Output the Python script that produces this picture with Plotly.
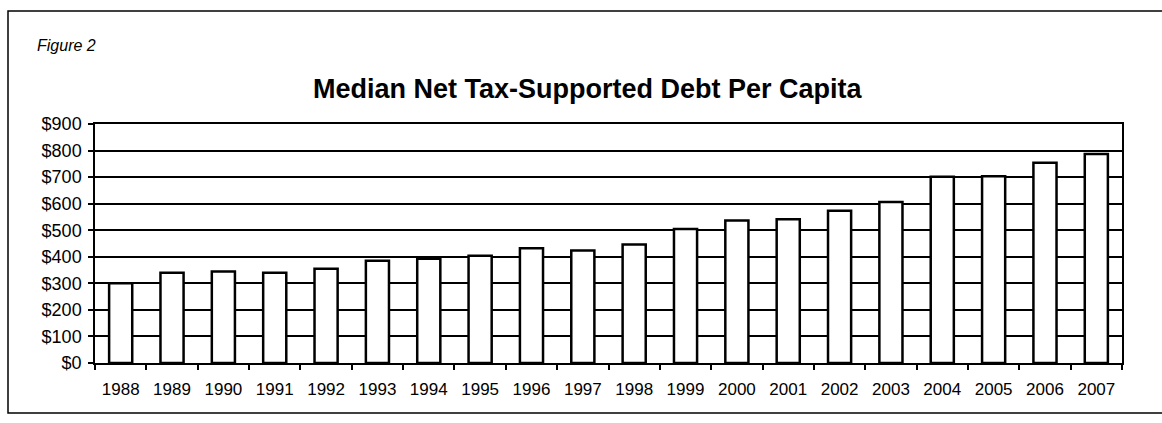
import plotly.graph_objects as go

# Median net tax-supported debt per capita, in dollars
years = [str(y) for y in range(1988, 2008)]
debt_per_capita = [300, 340, 345, 340, 355, 385, 393, 404, 432, 424,
                   446, 505, 537, 541, 573, 606, 701, 703, 754, 787]
y_ticks = list(range(0, 1000, 100))
y_tick_labels = [f"${v}" for v in y_ticks]

W, H = 1162, 423
L, R, T, B = 95, 40, 124, 60
plot_w = W - L - R
plot_h = H - T - B


def px_x(x):
    return (x - L) / plot_w


def px_y(y):
    return (H - B - y) / plot_h


fig = go.Figure(
    go.Bar(
        x=years,
        y=debt_per_capita,
        width=0.45,
        marker=dict(color="white", line=dict(color="black", width=2.5)),
    )
)

fig.update_layout(
    width=W,
    height=H,
    margin=dict(l=L, r=R, t=T, b=B),
    paper_bgcolor="white",
    plot_bgcolor="white",
    showlegend=False,
    font=dict(family="Liberation Sans, Arial, sans-serif", color="black"),
    xaxis=dict(
        type="category",
        automargin=False,
        tickangle=0,
        tickson="boundaries",
        ticks="outside",
        ticklen=5,
        tickwidth=1.5,
        tickcolor="black",
        showline=True,
        linecolor="black",
        linewidth=1.5,
        mirror=True,
        showgrid=False,
        tickfont=dict(family="Liberation Sans, Arial, sans-serif", size=17),
        ticklabelstandoff=10,
    ),
    yaxis=dict(
        automargin=False,
        range=[0, 900],
        tickvals=y_ticks,
        ticktext=y_tick_labels,
        ticks="outside",
        ticklen=5,
        tickwidth=1.5,
        tickcolor="black",
        showline=True,
        linecolor="black",
        linewidth=1.5,
        mirror=True,
        showgrid=True,
        gridcolor="black",
        gridwidth=1.5,
        zeroline=False,
        tickfont=dict(family="Liberation Sans, Arial, sans-serif", size=18),
        ticklabelstandoff=3,
    ),
    shapes=[
        dict(
            type="rect",
            xref="paper", yref="paper",
            x0=px_x(8), x1=px_x(1180),
            y0=px_y(413), y1=px_y(11),
            line=dict(color="black", width=1.5),
            fillcolor="rgba(0,0,0,0)",
            layer="below",
        )
    ],
    annotations=[
        dict(
            text="<i>Figure 2</i>",
            xref="paper", yref="paper",
            x=px_x(35), y=px_y(45),
            xanchor="left", yanchor="middle",
            showarrow=False,
            font=dict(family="Liberation Sans, Arial, sans-serif", size=16),
        ),
        dict(
            text="<b>Median Net Tax-Supported Debt Per Capita</b>",
            xref="paper", yref="paper",
            x=px_x(588), y=px_y(89),
            xanchor="center", yanchor="middle",
            showarrow=False,
            font=dict(family="Liberation Sans, Arial, sans-serif", size=27),
        ),
    ],
)

fig.write_html("out.html")
